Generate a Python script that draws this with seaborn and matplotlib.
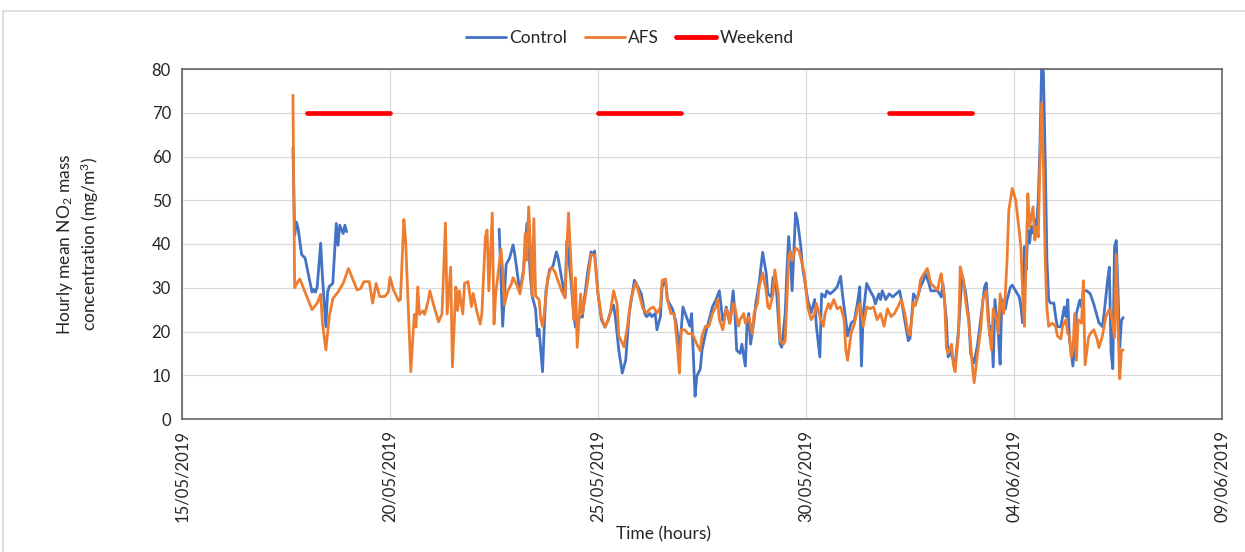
import numpy as np
import pandas as pd
import matplotlib
matplotlib.use("Agg")
import matplotlib.pyplot as plt
import matplotlib.dates as mdates
from matplotlib.lines import Line2D
from matplotlib.patches import Rectangle
import seaborn as sns

# Hourly NO2 record, hours counted from the first reading
START = "2019-05-17 16:00"

ctrl_hours = [0, 1, 2, 3, 5, 7, 9, 11, 12, 13, 14, 16, 17, 19, 20, 21, 23, 25, 26, 27, 29, 30, 31,
              32,
              119, 121, 123, 125, 127, 128, 130, 131, 133, 135, 136, 137, 138, 140, 141, 142, 144, 145,
              146, 148, 150, 152, 153, 155, 157, 158, 160, 162, 163, 165, 167, 168, 170, 172, 173, 174,
              176, 178, 180, 182, 183, 185, 186, 188, 190, 192, 194, 196, 197, 199, 201, 203, 204, 206,
              207, 209, 210, 212, 213, 215, 216, 219, 221, 223, 224, 225, 227, 229, 230, 232, 233, 235,
              236, 238, 240, 242, 244, 246, 248, 249, 250, 252, 254, 255, 256, 258, 259, 261, 262, 263,
              264, 266, 267, 269, 271, 273, 274, 276, 277, 279, 281, 282, 284, 285, 286, 287, 288, 290,
              291, 293, 294, 297, 299, 301, 302, 304, 305, 307, 308, 310, 312, 314, 316, 317, 319, 320,
              322, 324, 326, 327, 328, 329, 331, 333, 335, 336, 338, 339, 340, 342, 344, 346, 348, 350,
              351, 353, 355, 356, 358, 360, 362, 364, 365, 367, 368, 370, 372, 374, 375, 377, 378, 379,
              381, 382, 384, 386, 388, 390, 391, 393, 395, 397, 399, 400, 402, 403, 404, 405, 407, 408,
              409, 411, 412, 414, 415, 418, 419, 420, 421, 422, 423, 424, 425, 426, 427, 428, 429, 430,
              431, 432, 433, 434, 435, 436, 437, 439, 440, 441, 443, 444, 445, 446, 447, 448, 450, 451,
              452, 454, 455, 456, 458, 460, 462, 464, 465, 467, 468, 470, 471, 472, 473, 474, 475, 476,
              477, 478, 479]
ctrl_vals = [62, 42, 45, 43.5, 37.6, 36.8, 32.9, 29, 29.6, 29, 30.2, 40.2, 32.6, 21.1, 29, 30.3, 31, 44.7,
             39.7, 44.3, 42.4, 44.3, 42.8,
             np.nan,
             43.4, 21.2, 35.3, 36.8, 39.8, 37.6, 31.7, 29.3, 34, 44.7, 39.8, 32.6, 28.1, 25.1, 19, 20.5,
             10.8, 21, 29.3, 34.1, 34.9, 38.2, 36.8, 32.2, 27.7, 40.6, 33.4, 24, 21, 23.3, 23.3, 27, 33.4,
             38.2, 37.5, 38.4, 28.6, 22.7, 21, 22.7, 24.2, 26, 23.3, 15.7, 10.5, 13.5, 24.2, 29.3, 31.7,
             30.2, 28.6, 24.1, 23.4, 24.1, 23.4, 24.1, 20.4, 23.4, 30.2, 31.7, 27.3, 25.1, 22.1, 15.7,
             20.3, 25.6, 23.4, 21.2, 24.1, 5.2, 9.8, 11.4, 15.7, 19.5, 22.5, 25.6, 27.2, 29.3, 22.5, 23.4,
             25.6, 21.9, 29.3, 24.1, 15.7, 15, 17.1, 12.1, 21.9, 24.1, 17.1, 22.5, 26.3, 31.2, 38.1, 33.4,
             28.6, 27.9, 32.4, 29.3, 17.1, 16.4, 24.1, 34, 41.7, 36.4, 29.3, 47.1, 45.6, 39.4, 34.7, 27.3,
             24.3, 27.3, 21.2, 14.2, 28.6, 27.9, 29.3, 28.6, 29.3, 30.2, 32.6, 28.6, 22.5, 19, 21.9, 22.6,
             27.3, 30.2, 12.1, 24.1, 31, 29.3, 27.9, 26.3, 28.6, 27.3, 29.3, 27.3, 28.6, 27.9, 28.6, 29.3,
             27.3, 22.5, 17.9, 18.4, 28.6, 27.3, 30.2, 31.9, 33.2, 30.9, 29.3, 29.3, 29.3, 27.9, 30.9,
             22.5, 14.2, 15.7, 13.4, 12.1, 20.4, 32.6, 29.3, 22.5, 14.9, 12.8, 17.1, 23.4, 30.2, 31.1, 19,
             21.2, 11.9, 27.3, 19, 12.5, 27.3, 25.1, 27.3, 30.2, 30.6, 28.6, 27.9, 25.6, 22, 39.4, 34.1,
             43.2, 40.2, 44, 42.5, 45.5, 44, 50.1, 63, 82, 79, 59.2, 36.3, 27.3, 26.5, 26.5, 23.4, 21.1,
             21.1, 23.4, 25.6, 23.4, 27.3, 18.2, 12.1, 17.2, 24.1, 27.2, 25.6, 29.3, 29.3, 28.6, 26.3,
             23.4, 22, 21.1, 24.2, 31.7, 34.7, 15.2, 11.5, 39.4, 40.8, 29.3, 16.4, 22.5, 23.2]

afs_hours = [0, 1, 3, 4, 6, 9, 11, 14, 16, 17, 19, 21, 23, 26, 29, 32, 34, 37, 39, 41, 44, 46, 48, 50,
             53, 55, 56, 58, 61, 62, 64, 65, 68, 70, 71, 72, 73, 75, 76, 78, 79, 81, 84, 86, 88, 89, 91,
             92, 94, 95, 96, 98, 99, 101, 103, 104, 106, 108, 109, 111, 112, 113, 115, 116, 117, 120,
             121, 122, 124, 126, 127, 129, 131, 133, 134, 135, 136, 137, 138, 139, 140, 142, 143, 144,
             145, 147, 149, 151, 153, 155, 157, 158, 159, 160, 162, 163, 164, 166, 167, 169, 170, 172,
             174, 176, 178, 180, 181, 183, 185, 187, 188, 191, 193, 195, 197, 198, 200, 202, 204, 206,
             208, 210, 212, 213, 215, 216, 218, 220, 222, 223, 224, 226, 228, 230, 231, 233, 235, 236,
             238, 240, 242, 244, 245, 246, 248, 250, 251, 252, 254, 255, 257, 258, 260, 261, 263, 265,
             266, 268, 269, 271, 273, 274, 275, 277, 278, 280, 281, 283, 284, 286, 287, 288, 290, 292,
             293, 295, 297, 299, 301, 302, 304, 306, 307, 309, 310, 312, 314, 316, 318, 319, 320, 322,
             324, 326, 327, 329, 331, 333, 335, 337, 339, 341, 343, 345, 347, 349, 351, 353, 355, 356,
             358, 359, 361, 362, 364, 366, 368, 370, 372, 373, 374, 376, 377, 378, 380, 381, 382, 384,
             385, 387, 388, 390, 392, 393, 395, 397, 398, 400, 401, 403, 404, 406, 407, 408, 410, 411,
             412, 413, 415, 417, 419, 420, 421, 422, 423, 424, 425, 426, 427, 428, 429, 430, 431, 432,
             433, 434, 435, 436, 438, 440, 441, 443, 444, 446, 447, 448, 449, 450, 451, 452, 453, 455,
             456, 457, 459, 460, 462, 464, 465, 467, 469, 471, 472, 474, 475, 476, 477, 478, 479]
afs_vals = [74, 30, 31.5, 32, 30, 27, 25, 26.5, 28.5, 22, 15.8, 23.5, 27.5, 29, 31, 34.4, 32.5, 29.5,
            29.8, 31.4, 31.4, 26.5, 31, 28, 28, 29, 32.4, 29.5, 27, 27.3, 45.6, 40.9, 10.8, 23.9, 21,
            30.2, 23.9, 24.7, 23.9, 27, 29.3, 26.3, 22.2, 24, 44.8, 24, 34.7, 11.9, 30.2, 24.8, 29.3, 24,
            31, 31.4, 25.7, 28.7, 24.8, 21.7, 24, 41.6, 43.2, 29.3, 47.1, 21.7, 28.6, 38.8, 34.2, 26.1,
            29.3, 30.8, 32.3, 30.8, 28.6, 33.4, 42.4, 36.3, 48.5, 39.1, 28.1, 45.8, 28.1, 27.3, 22.7,
            21.2, 24.2, 32.3, 34.6, 33.8, 31.5, 29.3, 27.7, 39.1, 47.1, 39.1, 22.7, 32.3, 16.4, 28.6,
            24.1, 28.6, 31.5, 37.6, 37.4, 28.6, 23.3, 21, 21.8, 24.1, 29.3, 26.3, 19, 16.5, 21.2, 27.3,
            30.3, 31.2, 28.1, 25.2, 24.2, 25.2, 25.6, 24.2, 25.6, 31.7, 32, 27.3, 24.1, 24.1, 15.7, 10.5,
            20.4, 20.4, 19.5, 19.5, 19, 17.1, 15.6, 19, 21.2, 21.2, 24.1, 25.6, 27.3, 22.7, 20.4, 25.2,
            24.2, 21.9, 26.4, 25.6, 21.2, 22.7, 24.1, 21.9, 23.4, 19.5, 24.1, 26.4, 30.2, 33.4, 29.3,
            25.6, 25.2, 28.6, 34.1, 28.6, 17.9, 17.1, 17.9, 36.8, 38.4, 36.1, 39.1, 38.4, 36.8, 33.4,
            25.6, 22.7, 24.1, 26.4, 23.4, 21.2, 24.1, 26.4, 25.2, 27.3, 25.2, 25.6, 22.7, 15.7, 13.4,
            19.5, 21.9, 25.6, 26.4, 21.2, 25.6, 25.2, 25.6, 22.7, 24.1, 21.2, 25.2, 23.4, 24.1, 25.6,
            27.3, 24.1, 19.5, 19.2, 26.6, 25.9, 28.6, 31.7, 33.2, 34.4, 31, 30.2, 29.5, 31.7, 33.2, 27.3,
            16.2, 15, 17.1, 12.4, 10.8, 19.5, 34.8, 31.5, 27.3, 21.9, 12.1, 8.3, 15, 21.2, 27.3, 29.3,
            22.7, 15.8, 25.2, 22.7, 19.5, 28.6, 24.1, 28.6, 36.3, 47.7, 52.7, 50, 43, 39.1, 28.6, 21.2,
            36.3, 51.5, 43.9, 46.2, 48.5, 40.9, 43.9, 41.6, 59.2, 72.2, 57.6, 36.3, 25.2, 21.2, 21.9,
            21.2, 19, 18.3, 21.2, 22.7, 19.5, 19, 14.2, 15.7, 24.1, 13.4, 22.7, 21.9, 31.6, 12.4, 18.6,
            19.5, 20.4, 18.2, 16.3, 19, 23.4, 25.1, 24.1, 18.6, 37.6, 21.2, 9.2, 15.8, 15.8]

weekend_start = ["2019-05-18", "2019-05-25", "2019-06-01"]
weekend_end = ["2019-05-20", "2019-05-27", "2019-06-03"]
weekend_level = 70

x_ticks = ["2019-05-15", "2019-05-20", "2019-05-25", "2019-05-30", "2019-06-04", "2019-06-09"]
y_ticks = [0, 10, 20, 30, 40, 50, 60, 70, 80]

BLUE = "#4472C4"
ORANGE = "#ED7D31"
RED = "#FF0000"
AXIS = "#595959"
GRID = "#D9D9D9"


def series_frame(hours, vals):
    t = pd.Timestamp(START) + pd.to_timedelta(hours, unit="h")
    v = pd.Series(vals, dtype=float)
    seg = v.isna().cumsum()
    df = pd.DataFrame({"time": t, "value": v.values, "segment": seg.values})
    return df.dropna()


ctrl_df = series_frame(ctrl_hours, ctrl_vals)
afs_df = series_frame(afs_hours, afs_vals)
wk_df = pd.DataFrame({
    "time": pd.to_datetime(weekend_start + weekend_end),
    "value": [weekend_level] * (2 * len(weekend_start)),
    "segment": list(range(len(weekend_start))) * 2,
}).sort_values(["segment", "time"])

sns.set_theme(style="white")
plt.rcParams["font.family"] = ["Lato", "DejaVu Sans"]
plt.rcParams["mathtext.fontset"] = "custom"
plt.rcParams["mathtext.rm"] = "Lato"
plt.rcParams["mathtext.it"] = "Lato:italic"
plt.rcParams["mathtext.bf"] = "Lato:bold"

fig = plt.figure(figsize=(12.45, 5.52), dpi=100)
ax = fig.add_axes([182 / 1245, (552 - 419) / 552, 1040 / 1245, 350 / 552])

sns.lineplot(data=ctrl_df, x="time", y="value", units="segment", estimator=None,
             color=BLUE, linewidth=2.0, ax=ax, sort=False)
sns.lineplot(data=afs_df, x="time", y="value", units="segment", estimator=None,
             color=ORANGE, linewidth=2.0, ax=ax, sort=False)
sns.lineplot(data=wk_df, x="time", y="value", units="segment", estimator=None,
             color=RED, linewidth=3.4, ax=ax, sort=False)

ax.set_xlim(pd.Timestamp(x_ticks[0]), pd.Timestamp(x_ticks[-1]))
ax.set_ylim(y_ticks[0], y_ticks[-1])
ax.set_xticks(pd.to_datetime(x_ticks))
ax.set_yticks(y_ticks)
ax.xaxis.set_major_formatter(mdates.DateFormatter("%d/%m/%Y"))
ax.grid(True, color=GRID, linewidth=0.9)
ax.set_axisbelow(True)

for side in ["left", "bottom", "top", "right"]:
    ax.spines[side].set_color(AXIS)
    ax.spines[side].set_linewidth(1.1)
    ax.spines[side].set_visible(True)

ax.tick_params(axis="both", direction="inout", length=8, width=1, color=AXIS,
               labelsize=12, labelcolor="#262626", pad=4)
ax.tick_params(axis="x", labelrotation=90)

ax.set_xlabel("Time (hours)", fontsize=12.5, color="#262626")
ax.xaxis.set_label_coords((663 - 182) / 1040, (419 - 526) / 350)
ax.set_ylabel("Hourly mean NO$_2$ mass\nconcentration (mg/m$^3$)", fontsize=12.5,
              color="#262626", linespacing=1.2)
ax.yaxis.set_label_coords((101 - 182) / 1040, 0.5)

handles = [Line2D([], [], color=BLUE, lw=2),
           Line2D([], [], color=ORANGE, lw=2),
           Line2D([], [], color=RED, lw=3.5)]
fig.legend(handles, ["Control", "AFS", "Weekend"], loc="center",
           bbox_to_anchor=(630 / 1245, 1 - 38 / 552), ncol=3, frameon=False,
           fontsize=12.5, handlelength=2.3, handletextpad=0.2, columnspacing=1.0,
           labelcolor="#262626")

fig.add_artist(Rectangle((3 / 1245, -0.05), 1.1, 1 - 11 / 552 + 0.05, transform=fig.transFigure,
                         fill=False, edgecolor=GRID, linewidth=1.2))

fig.savefig("out.png", dpi=100)
